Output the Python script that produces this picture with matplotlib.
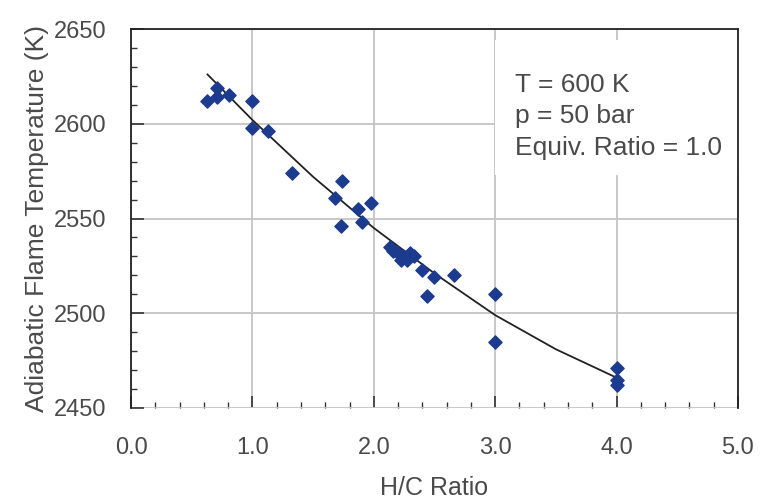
import matplotlib.pyplot as plt
from matplotlib.patches import Rectangle
from matplotlib.ticker import MultipleLocator, FormatStrFormatter

# H/C ratio vs adiabatic flame temperature
hc_ratio = [0.63, 0.71, 0.71, 0.81, 1.00, 1.00, 1.13, 1.33, 1.74, 1.68,
            1.87, 1.98, 1.73, 1.90, 2.13, 2.16, 2.20, 2.24, 2.27, 2.30,
            2.22, 2.33, 2.40, 2.50, 2.66, 2.44, 3.00, 3.00, 4.00, 4.00, 4.00]
flame_temp = [2612, 2619, 2614, 2615, 2612, 2598, 2596, 2574, 2570, 2561,
              2555, 2558, 2546, 2548, 2535, 2533, 2532, 2530, 2528, 2532,
              2528, 2530, 2523, 2519, 2520, 2509, 2510, 2485, 2471, 2465, 2462]

# trendline as drawn in the reference
trend_x = [0.63, 1.0, 1.5, 2.0, 2.5, 3.0, 3.5, 4.0]
trend_y = [2626, 2602, 2572, 2545, 2521, 2499, 2481, 2466]

note_lines = ["T = 600 K", "p = 50 bar", "Equiv. Ratio = 1.0"]

plt.rcParams['font.family'] = ['Liberation Sans', 'DejaVu Sans']
txt = '#4a4a4a'

fig = plt.figure(figsize=(7.6, 5), dpi=100)
ax = fig.add_axes([0.1724, 0.184, 0.7986, 0.758])

ax.plot(trend_x, trend_y, color='#222222', lw=1.3, zorder=3)
ax.scatter(hc_ratio, flame_temp, marker='D', s=45, color='#1c3b8e',
           edgecolors='#1c3b8e', zorder=4)

ax.set_xlim(0, 5)
ax.set_ylim(2450, 2650)
ax.xaxis.set_major_locator(MultipleLocator(1))
ax.xaxis.set_minor_locator(MultipleLocator(0.2))
ax.yaxis.set_major_locator(MultipleLocator(50))
ax.yaxis.set_minor_locator(MultipleLocator(10))
ax.xaxis.set_major_formatter(FormatStrFormatter('%.1f'))

ax.grid(True, which='major', color='#c4c4c4', lw=1.3)
ax.set_axisbelow(True)
ax.tick_params(which='both', direction='in', top=False, right=False,
               colors='#333333', labelcolor=txt, labelsize=17)
ax.tick_params(which='major', length=9, width=1.2)
ax.tick_params(which='minor', length=4, width=1.0)
ax.tick_params(axis='x', pad=21)
ax.tick_params(axis='y', pad=18)

for side in ['left', 'top', 'right']:
    ax.spines[side].set_color('#222222')
    ax.spines[side].set_linewidth(1.3)
ax.spines['bottom'].set_visible(False)

ax.set_xlabel("H/C Ratio", fontsize=18, color=txt, labelpad=12)
ax.set_ylabel("Adiabatic Flame Temperature (K)", fontsize=19, color=txt,
              labelpad=3)

# white panel behind the conditions note
ax.add_patch(Rectangle((3.0, 2573), 2.0, 71, facecolor='white',
                       edgecolor='none', zorder=1))
ax.text(3.16, 2627, "\n".join(note_lines), fontsize=19, color=txt,
        va='top', ha='left', linespacing=1.4, zorder=5)

fig.savefig("out.png", dpi=100)
